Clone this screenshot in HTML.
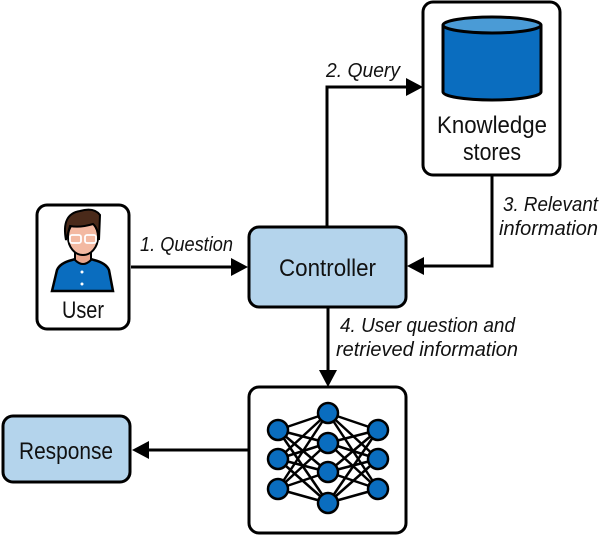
<!DOCTYPE html>
<html><head><meta charset="utf-8"><style>
html,body{margin:0;padding:0;background:#fff;width:600px;height:537px;overflow:hidden}
text{font-family:"Liberation Sans",sans-serif;fill:#111}
.it{font-style:italic}
</style></head><body>
<svg width="600" height="537" viewBox="0 0 600 537" xmlns="http://www.w3.org/2000/svg">
<g stroke="#000" stroke-width="3" fill="none">
<line x1="131" y1="267" x2="234" y2="267"/>
<polyline points="327,226 327,87 408,87"/>
<polyline points="492,175 492,266 420,266"/>
<line x1="328" y1="308" x2="328" y2="372"/>
<line x1="248" y1="450" x2="146" y2="450"/>
</g>
<g fill="#000">
<polygon points="248,267 231,258 231,276"/>
<polygon points="423,87 406,78 406,96"/>
<polygon points="407,266 424,257 424,275"/>
<polygon points="328,387 319,370 337,370"/>
<polygon points="132,450 149,441 149,459"/>
</g>
<rect x="37" y="205" width="92" height="124" rx="10" fill="#fff" stroke="#000" stroke-width="3"/>
<rect x="249" y="227" width="157" height="80" rx="10" fill="#b4d4ec" stroke="#000" stroke-width="3"/>
<rect x="423" y="2" width="137" height="173" rx="10" fill="#fff" stroke="#000" stroke-width="3"/>
<rect x="3" y="416" width="127" height="66" rx="10" fill="#b4d4ec" stroke="#000" stroke-width="3"/>
<rect x="249" y="387" width="157" height="146" rx="10" fill="#fff" stroke="#000" stroke-width="3"/>
<path d="M443,25 L443,92 A49,8 0 0 0 541,92 L541,25" fill="#0a6dbf" stroke="#000" stroke-width="3"/>
<ellipse cx="492" cy="25" rx="49" ry="8" fill="#4a9bd6" stroke="#000" stroke-width="3"/>
<!-- user icon -->
<path d="M52,291 L57,270 Q60,263 72,260 L78,258 L88,258 L94,260 Q106,263 109,270 L113,291 Z" fill="#0a6dbf" stroke="#000" stroke-width="2.5"/>
<path d="M75,246 L75,260 Q83,268 91,260 L91,246 Z" fill="#e9a58c" stroke="#000" stroke-width="2"/>
<ellipse cx="83" cy="237" rx="15" ry="18" fill="#f3b9a2" stroke="#000" stroke-width="2"/>
<path d="M66,240 Q61,214 80,211 Q94,207 100,215 L99,240 Q98,228 93,224 Q80,228 70,226 Z" fill="#4a2a1a" stroke="#000" stroke-width="2"/>
<rect x="70" y="235" width="11" height="8" rx="2" fill="none" stroke="#fff" stroke-width="1.8"/>
<rect x="85" y="235" width="11" height="8" rx="2" fill="none" stroke="#fff" stroke-width="1.8"/>
<circle cx="82" cy="272" r="1.5" fill="#fff"/><circle cx="82" cy="284" r="1.5" fill="#fff"/>
<g stroke="#000" stroke-width="2.5">
<g id="e">
<line x1="278" y1="430" x2="328" y2="413"/><line x1="278" y1="430" x2="328" y2="443"/><line x1="278" y1="430" x2="328" y2="472"/><line x1="278" y1="430" x2="328" y2="503"/>
<line x1="278" y1="459" x2="328" y2="413"/><line x1="278" y1="459" x2="328" y2="443"/><line x1="278" y1="459" x2="328" y2="472"/><line x1="278" y1="459" x2="328" y2="503"/>
<line x1="278" y1="489" x2="328" y2="413"/><line x1="278" y1="489" x2="328" y2="443"/><line x1="278" y1="489" x2="328" y2="472"/><line x1="278" y1="489" x2="328" y2="503"/>
</g>
<use href="#e" transform="translate(656,0) scale(-1,1)"/>
</g>
<g fill="#0a6dbf" stroke="#000" stroke-width="2.5">
<circle cx="278" cy="430" r="10"/><circle cx="278" cy="459" r="10"/><circle cx="278" cy="489" r="10"/>
<circle cx="328" cy="413" r="10"/><circle cx="328" cy="443" r="10"/><circle cx="328" cy="472" r="10"/><circle cx="328" cy="503" r="10"/>
<circle cx="378" cy="430" r="10"/><circle cx="378" cy="459" r="10"/><circle cx="378" cy="489" r="10"/>
</g>
<g font-size="24" lengthAdjust="spacingAndGlyphs">
<text x="62" y="318" textLength="42" lengthAdjust="spacingAndGlyphs">User</text>
<text x="279" y="276" textLength="97" lengthAdjust="spacingAndGlyphs">Controller</text>
<text x="437" y="133" textLength="110" lengthAdjust="spacingAndGlyphs">Knowledge</text>
<text x="463" y="160" textLength="58" lengthAdjust="spacingAndGlyphs">stores</text>
<text x="19" y="459" textLength="94" lengthAdjust="spacingAndGlyphs">Response</text>
</g>
<g font-size="20">
<text class="it" x="140" y="251" textLength="93" lengthAdjust="spacingAndGlyphs">1. Question</text>
<text class="it" x="326" y="77" textLength="74" lengthAdjust="spacingAndGlyphs">2. Query</text>
<text class="it" x="503" y="211" textLength="95" lengthAdjust="spacingAndGlyphs">3. Relevant</text>
<text class="it" x="499" y="235" textLength="99" lengthAdjust="spacingAndGlyphs">information</text>
<text class="it" x="340" y="332" textLength="175" lengthAdjust="spacingAndGlyphs">4. User question and</text>
<text class="it" x="336" y="356" textLength="182" lengthAdjust="spacingAndGlyphs">retrieved information</text>
</g>
</svg>
</body></html>
